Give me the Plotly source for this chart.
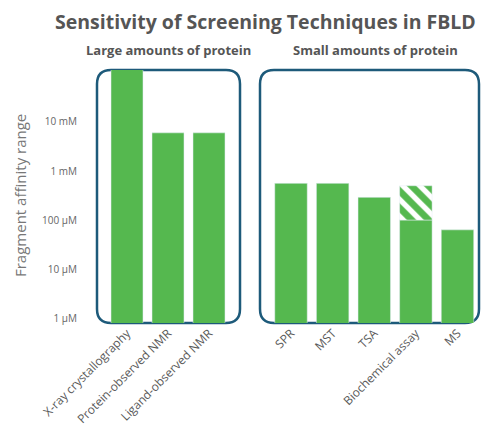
import plotly.graph_objects as go

# ---- data (affinity in µM) ----
large_techniques = ["X-ray crystallography", "Protein-observed NMR", "Ligand-observed NMR"]
large_values = [120000, 6000, 6000]

small_techniques = ["SPR", "MST", "TSA", "Biochemical assay", "MS"]
small_values = [560, 560, 290, 100, 63]

hatched_technique = ["Biochemical assay"]
hatched_base = [100]
hatched_top = [500]

tick_values = [1, 10, 100, 1000, 10000]
tick_labels = ["1 µM", "10 µM", "100 µM", "1 mM", "10 mM"]

title_text = "Sensitivity of Screening Techniques in FBLD"
group_titles = ["Large amounts of protein", "Small amounts of protein"]
y_title = "Fragment affinity range"

GREEN = "#55b84f"
BOX = "#1d5a7a"
FONT = "Open Sans"

W, H = 482, 440
ML, MR, MT, MB = 80, 2, 70, 117
PW = W - ML - MR
PH = H - MT - MB


def px_x(px):
    return (px - ML) / PW


def px_y(py):
    return (H - MB - py) / PH


fig = go.Figure()
fig.add_trace(go.Bar(x=large_techniques, y=large_values, marker_color=GREEN,
                     xaxis="x", yaxis="y", showlegend=False))
fig.add_trace(go.Bar(x=small_techniques, y=small_values, marker_color=GREEN,
                     xaxis="x2", yaxis="y", showlegend=False))
fig.add_trace(go.Bar(x=hatched_technique,
                     y=[t - b for t, b in zip(hatched_top, hatched_base)],
                     base=hatched_base,
                     marker=dict(color=GREEN,
                                 pattern=dict(shape="\\", fgcolor="white",
                                              bgcolor=GREEN, size=12,
                                              solidity=0.45, fillmode="replace")),
                     xaxis="x2", yaxis="y", showlegend=False))


def rounded_box(x0, y0, x1, y1, r=14):
    X0, X1 = px_x(x0), px_x(x1)
    Y0, Y1 = px_y(y1), px_y(y0)  # bottom, top in paper
    rx, ry = r / PW, r / PH
    return (f"M {X0 + rx} {Y1} L {X1 - rx} {Y1} Q {X1} {Y1} {X1} {Y1 - ry} "
            f"L {X1} {Y0 + ry} Q {X1} {Y0} {X1 - rx} {Y0} "
            f"L {X0 + rx} {Y0} Q {X0} {Y0} {X0} {Y0 + ry} "
            f"L {X0} {Y1 - ry} Q {X0} {Y1} {X0 + rx} {Y1} Z")


shapes = [
    dict(type="path", xref="paper", yref="paper", path=rounded_box(97, 70, 240, 323),
         line=dict(color=BOX, width=2.5), layer="below"),
    dict(type="path", xref="paper", yref="paper", path=rounded_box(260, 70, 479, 323),
         line=dict(color=BOX, width=2.5), layer="below"),
]

annotations = [
    dict(text=f"<b>{title_text}</b>", x=px_x(265), y=px_y(22), xref="paper", yref="paper",
         showarrow=False, font=dict(size=19.5, color="#555555", family=FONT),
         xanchor="center", yanchor="middle"),
    dict(text=f"<b>{group_titles[0]}</b>", x=px_x(168), y=px_y(50), xref="paper", yref="paper",
         showarrow=False, font=dict(size=13, color="#555555", family=FONT),
         xanchor="center", yanchor="middle"),
    dict(text=f"<b>{group_titles[1]}</b>", x=px_x(375), y=px_y(50), xref="paper", yref="paper",
         showarrow=False, font=dict(size=13, color="#555555", family=FONT),
         xanchor="center", yanchor="middle"),
    dict(text=y_title, x=px_x(20), y=px_y(196), xref="paper", yref="paper",
         showarrow=False, textangle=-90, font=dict(size=15, color="#777777", family=FONT),
         xanchor="center", yanchor="middle"),
]

xaxis_common = dict(showline=False, showgrid=False, zeroline=False, ticks="",
                    tickangle=-45, tickfont=dict(size=12, color="#5a5a5a", family=FONT),
                    fixedrange=True, automargin=False)

fig.update_layout(
    width=W, height=H,
    margin=dict(l=ML, r=MR, t=MT, b=MB, autoexpand=False),
    paper_bgcolor="white", plot_bgcolor="white",
    barmode="overlay", bargap=0.22,
    font=dict(family=FONT, color="#666666"),
    xaxis=dict(domain=[px_x(106.5), px_x(229.5)], anchor="y", **xaxis_common),
    xaxis2=dict(domain=[px_x(270.2), px_x(478.3)], anchor="y", **xaxis_common),
    yaxis=dict(type="log", range=[-0.1, 5.06], tickvals=tick_values, ticktext=tick_labels,
               anchor="free", position=0, fixedrange=True,
               showgrid=False, zeroline=False, showline=False, ticks="", automargin=False,
               tickfont=dict(size=10, color="#666666", family=FONT), ticklabelstandoff=3),
    shapes=shapes,
    annotations=annotations,
)

fig.write_html("out.html",
               config={"displayModeBar": False},
               post_script="document.body.style.margin='0';document.body.style.padding='0';")
